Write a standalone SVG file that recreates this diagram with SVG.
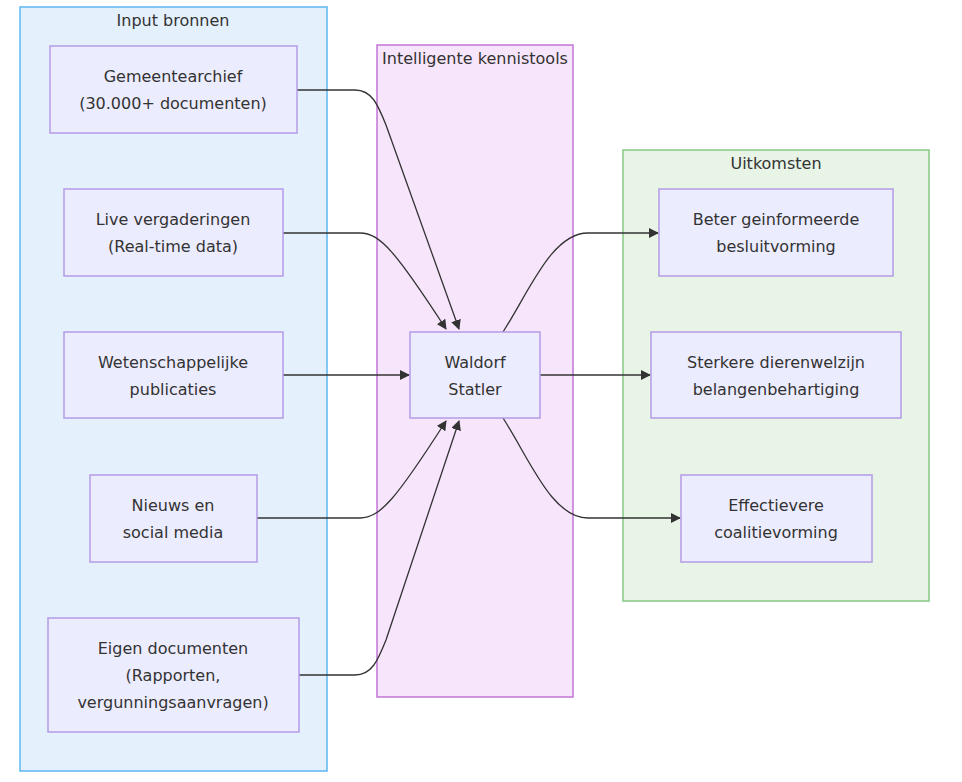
<svg xmlns="http://www.w3.org/2000/svg" width="962" height="782" viewBox="0 0 962 782">
<style>
text{font-family:"DejaVu Sans","Liberation Sans",sans-serif;font-size:16px;fill:#333;text-anchor:middle;dominant-baseline:central}
.node rect{fill:#ececff;stroke:#b49be6;stroke-width:1.5}
.edge{fill:none;stroke:#333;stroke-width:1.3}
</style>
<defs>
<marker id="arr" viewBox="0 0 10 10" refX="9" refY="5" markerWidth="10" markerHeight="10" markerUnits="userSpaceOnUse" orient="auto"><path d="M0,0 L10,5 L0,10 z" fill="#333"/></marker>
</defs>
<g id="cluster-input"><rect x="20" y="7" width="307" height="764" fill="#e4f0fc" stroke="#5eb6f4" stroke-width="1.5"/><text x="173" y="20">Input bronnen</text></g>
<g id="cluster-tools"><rect x="377" y="45" width="196" height="652" fill="#f7e5fb" stroke="#c275d6" stroke-width="1.5"/><text x="475" y="58">Intelligente kennistools</text></g>
<g id="cluster-out"><rect x="623" y="150" width="306" height="451" fill="#e7f4e6" stroke="#86c985" stroke-width="1.5"/><text x="776" y="163">Uitkomsten</text></g>
<g id="edges">
<path class="edge" d="M297,90 L355,90 C372,90 378,105 386,125 L459,329" marker-end="url(#arr)"/>
<path class="edge" d="M283,233 L360,233 C380,233 396,252 446,329" marker-end="url(#arr)"/>
<path class="edge" d="M283,375 L409,375" marker-end="url(#arr)"/>
<path class="edge" d="M257,518 L360,518 C380,518 396,499 446,421" marker-end="url(#arr)"/>
<path class="edge" d="M299,675 L355,675 C372,675 378,660 386,640 L459,421" marker-end="url(#arr)"/>
<path class="edge" d="M503,332 C530,290 552,233 588,233 L658,233" marker-end="url(#arr)"/>
<path class="edge" d="M540,375 L650,375" marker-end="url(#arr)"/>
<path class="edge" d="M503,418 C530,460 552,518 588,518 L680,518" marker-end="url(#arr)"/>
</g>
<g id="n-gemeente" class="node"><rect x="50" y="46" width="247" height="87"/><text x="173" y="76">Gemeentearchief</text><text x="173" y="103">(30.000+ documenten)</text></g>
<g id="n-live" class="node"><rect x="64" y="189" width="219" height="87"/><text x="173" y="219">Live vergaderingen</text><text x="173" y="246">(Real-time data)</text></g>
<g id="n-wet" class="node"><rect x="64" y="332" width="219" height="86"/><text x="173" y="362">Wetenschappelijke</text><text x="173" y="389">publicaties</text></g>
<g id="n-nieuws" class="node"><rect x="90" y="475" width="167" height="87"/><text x="173" y="505">Nieuws en</text><text x="173" y="532">social media</text></g>
<g id="n-eigen" class="node"><rect x="48" y="618" width="251" height="114"/><text x="173" y="648">Eigen documenten</text><text x="173" y="675">(Rapporten,</text><text x="173" y="702">vergunningsaanvragen)</text></g>
<g id="n-waldorf" class="node"><rect x="410" y="332" width="130" height="86"/><text x="475" y="362">Waldorf</text><text x="475" y="389">Statler</text></g>
<g id="n-beter" class="node"><rect x="659" y="189" width="234" height="87"/><text x="776" y="219">Beter geinformeerde</text><text x="776" y="246">besluitvorming</text></g>
<g id="n-sterk" class="node"><rect x="651" y="332" width="250" height="86"/><text x="776" y="362">Sterkere dierenwelzijn</text><text x="776" y="389">belangenbehartiging</text></g>
<g id="n-effect" class="node"><rect x="681" y="475" width="191" height="87"/><text x="776" y="505">Effectievere</text><text x="776" y="532">coalitievorming</text></g>
</svg>
